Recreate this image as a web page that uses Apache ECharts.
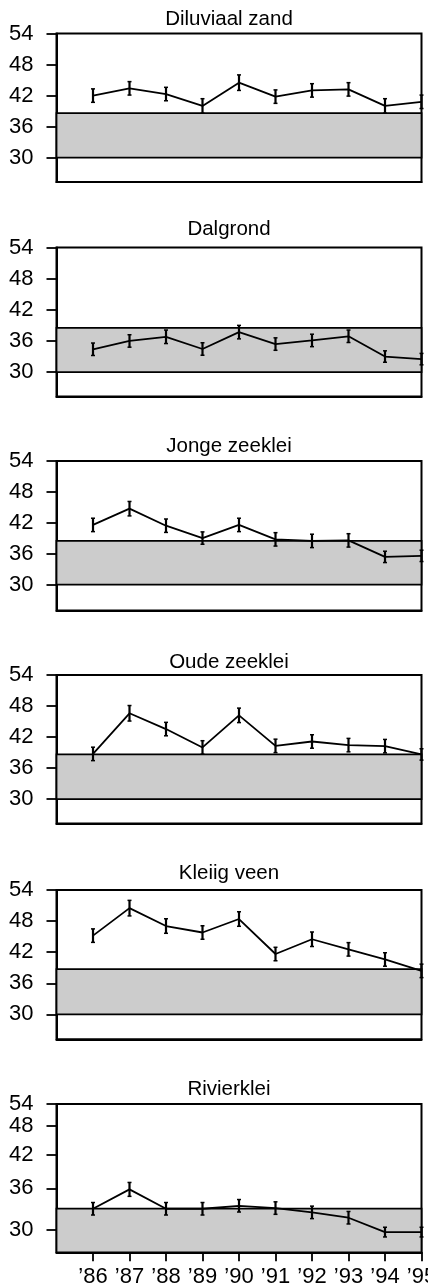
<!DOCTYPE html>
<html>
<head>
<meta charset="utf-8">
<script src="https://cdn.jsdelivr.net/npm/echarts@6/dist/echarts.min.js"></script>
<style>
html,body{margin:0;padding:0;background:#fff}
#chart{width:428px;height:1284px}
</style>
</head>
<body>
<div id="chart"></div>
<script>
// ---- data ----
const years = [1986, 1987, 1988, 1989, 1990, 1991, 1992, 1993, 1994, 1995];
const yearLabels = ['’86', '’87', '’88', '’89', '’90', '’91', '’92', '’93', '’94', '’95'];
const titles = ['Diluviaal zand', 'Dalgrond', 'Jonge zeeklei', 'Oude zeeklei', 'Kleiig veen', 'Rivierklei'];

const diluviaalZand    = [42.0, 43.4, 42.3, 40.0, 44.5, 41.8, 43.0, 43.2, 40.0, 40.8];
const diluviaalZandErr = [1.3, 1.3, 1.3, 1.4, 1.5, 1.3, 1.3, 1.3, 1.4, 1.3];
const dalgrond         = [34.4, 36.0, 36.8, 34.45, 37.7, 35.4, 36.1, 36.9, 33.0, 32.5];
const dalgrondErr      = [1.2, 1.2, 1.3, 1.2, 1.3, 1.2, 1.2, 1.2, 1.1, 1.1];
const jongeZeeklei     = [41.6, 44.75, 41.45, 39.05, 41.6, 38.8, 38.5, 38.6, 35.4, 35.6];
const jongeZeekleiErr  = [1.3, 1.4, 1.3, 1.2, 1.3, 1.3, 1.3, 1.3, 1.1, 1.1];
const oudeZeeklei      = [38.75, 46.6, 43.55, 40.0, 46.2, 40.3, 41.15, 40.45, 40.25, 38.65];
const oudeZeekleiErr   = [1.3, 1.5, 1.3, 1.3, 1.4, 1.3, 1.3, 1.3, 1.3, 1.1];
const kleiigVeen       = [45.2, 50.5, 47.05, 45.8, 48.4, 41.65, 44.5, 42.55, 40.6, 38.4];
const kleiigVeenErr    = [1.3, 1.5, 1.4, 1.3, 1.4, 1.3, 1.4, 1.3, 1.3, 1.3];
const rivierklei       = [33.07, 35.86, 33.07, 33.07, 33.5, 33.17, 32.55, 31.78, 29.71, 29.71];
const rivierkleiErr    = [0.9, 1.0, 0.9, 0.9, 0.9, 0.9, 0.9, 0.9, 0.7, 0.7];

const seriesValues = [diluviaalZand, dalgrond, jongeZeeklei, oudeZeeklei, kleiigVeen, rivierklei];
const seriesErrors = [diluviaalZandErr, dalgrondErr, jongeZeekleiErr, oudeZeekleiErr, kleiigVeenErr, rivierkleiErr];

// grey reference band (upper limit) per panel
const bandTop = [38.6, 38.5, 38.5, 38.65, 38.75, 33.1];

// y tick labels; Rivierklei's printed axis is squeezed above 36
const yTickLabels = ['30', '36', '42', '48', '54'];
const yTickValues = [30, 36, 42, 48, 54];
const rivierkleiTickValues = [30, 36, 40.8, 45.0, 48.16];

// ---- layout ----
const panelTop    = [33.5, 247.5, 461, 675, 890, 1104];
const panelHeight = [148.5, 149, 149.5, 148.5, 149.3, 148.3];
const yMin = [25.3, 25.3, 25.0, 25.3, 25.2, 26.8];
const yMax = [54, 54, 54, 54, 54, 48.16];
const titleCenterY = [20.7, 230.7, 447.7, 663.3, 874, 1090.7];

const FONT = '"Liberation Sans", Arial, Helvetica, sans-serif';
const chart = echarts.init(document.getElementById('chart'), null, {renderer: 'canvas'});

const grids = [], xAxes = [], yAxes = [], series = [], titleList = [];
for (let i = 0; i < 6; i++) {
  const tickVals = i === 5 ? rivierkleiTickValues : yTickValues;
  const last = i === 5;
  titleList.push({
    text: titles[i], left: 229, top: titleCenterY[i] - 11.5, textAlign: 'center', padding: 0,
    textStyle: {fontSize: 20.5, fontWeight: 'normal', color: '#000', fontFamily: FONT}
  });
  grids.push({
    left: 56.5, right: 6.5, top: panelTop[i], height: panelHeight[i],
    show: true, borderColor: '#000', borderWidth: 2, backgroundColor: 'transparent',
    containLabel: false, outerBoundsMode: 'none'
  });
  xAxes.push({
    gridIndex: i, type: 'value', min: 1985, max: 1995,
    axisLine: {show: true, onZero: false, lineStyle: {color: '#000', width: 2}},
    axisTick: {show: last, customValues: years, length: 9, lineStyle: {color: '#000', width: 1.8}},
    axisLabel: {show: last, customValues: years, margin: 14, fontSize: 22, color: '#000', fontFamily: FONT,
      hideOverlap: false,
      formatter: v => yearLabels[years.indexOf(Math.round(v))] || ''},
    splitLine: {show: false}
  });
  yAxes.push({
    gridIndex: i, type: 'value', min: yMin[i], max: yMax[i],
    axisLine: {show: true, onZero: false, lineStyle: {color: '#000', width: 2}},
    axisTick: {show: true, customValues: tickVals, length: 10, lineStyle: {color: '#000', width: 1.8}},
    axisLabel: {customValues: tickVals, margin: 23, fontSize: 22, color: '#000', fontFamily: FONT,
      showMinLabel: true, showMaxLabel: true, hideOverlap: false,
      formatter: v => {
        let best = 0, d = Infinity;
        tickVals.forEach((t, k) => { if (Math.abs(t - v) < d) { d = Math.abs(t - v); best = k; } });
        return yTickLabels[best];
      }},
    splitLine: {show: false}
  });
  const vals = seriesValues[i], errs = seriesErrors[i];
  series.push({
    type: 'line', xAxisIndex: i, yAxisIndex: i, z: 3, silent: true,
    symbol: 'none', animation: false, clip: false,
    lineStyle: {color: '#000', width: 1.8},
    data: years.map((y, j) => [y, vals[j]]),
    markArea: {
      silent: true, z: 1,
      itemStyle: {color: '#cccccc', borderColor: '#000', borderWidth: 1.8},
      data: [[{xAxis: 1985, yAxis: last ? yMin[i] : 30}, {xAxis: 1995, yAxis: bandTop[i]}]]
    }
  });
  series.push({
    type: 'custom', xAxisIndex: i, yAxisIndex: i, z: 4, silent: true, animation: false,
    renderItem: (params, api) => {
      const x = api.value(0), y = api.value(1), e = api.value(2);
      const p = api.coord([x, y + e]), q = api.coord([x, y - e]);
      const w = 2;
      const st = {stroke: '#000', lineWidth: 2.2};
      return {type: 'group', children: [
        {type: 'line', shape: {x1: p[0], y1: p[1], x2: q[0], y2: q[1]}, style: st},
        {type: 'line', shape: {x1: p[0] - w, y1: p[1], x2: p[0] + w, y2: p[1]}, style: {stroke: '#000', lineWidth: 1.5}},
        {type: 'line', shape: {x1: q[0] - w, y1: q[1], x2: q[0] + w, y2: q[1]}, style: {stroke: '#000', lineWidth: 1.5}}
      ]};
    },
    data: years.map((y, j) => [y, vals[j], errs[j]])
  });
}

chart.setOption({
  animation: false,
  backgroundColor: '#fff',
  title: titleList,
  grid: grids,
  xAxis: xAxes,
  yAxis: yAxes,
  series: series
});
</script>
</body>
</html>
